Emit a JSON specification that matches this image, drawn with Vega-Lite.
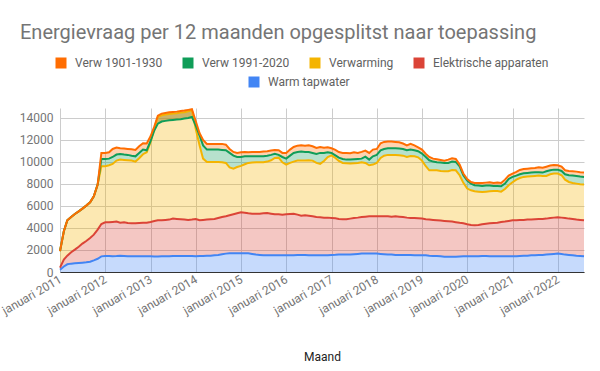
{
  "$schema": "https://vega.github.io/schema/vega-lite/v6.json",
  "autosize": {"type": "none"},
  "width": 524,
  "height": 164,
  "padding": {"left": 60, "top": 108, "right": 16, "bottom": 99},
  "background": "white",
  "title": {"text": "Energievraag per 12 maanden opgesplitst naar toepassing", "anchor": "start", "frame": "group", "dx": -40, "offset": 14, "font": "Roboto", "fontSize": 20, "fontWeight": "normal", "color": "#757575"},
  "config": {
    "view": {"stroke": null},
    "legend": {"labelFont": "Roboto", "labelFontSize": 12, "labelColor": "#616161", "symbolType": "square", "symbolSize": 121, "symbolStrokeWidth": 0, "symbolOpacity": 1, "labelOffset": 8, "columnPadding": 19, "padding": 0}
  },
  "data": {"values": [
{"d":"2011-01-01","tap":200,"elek":200,"verw":1500,"v1991":0,"v1901":0},
{"d":"2011-02-01","tap":500,"elek":620,"verw":2580,"v1991":0,"v1901":0},
{"d":"2011-03-01","tap":700,"elek":780,"verw":3220,"v1991":0,"v1901":0},
{"d":"2011-04-01","tap":760,"elek":1030,"verw":3210,"v1991":0,"v1901":0},
{"d":"2011-05-01","tap":790,"elek":1240,"verw":3240,"v1991":0,"v1901":0},
{"d":"2011-06-01","tap":820,"elek":1480,"verw":3210,"v1991":0,"v1901":0},
{"d":"2011-07-01","tap":850,"elek":1730,"verw":3180,"v1991":0,"v1901":0},
{"d":"2011-08-01","tap":880,"elek":1940,"verw":3210,"v1991":0,"v1901":0},
{"d":"2011-09-01","tap":940,"elek":2150,"verw":3240,"v1991":0,"v1901":0},
{"d":"2011-10-01","tap":1060,"elek":2330,"verw":3490,"v1991":0,"v1901":0},
{"d":"2011-11-01","tap":1200,"elek":2650,"verw":4090,"v1991":0,"v1901":0},
{"d":"2011-12-01","tap":1420,"elek":2940,"verw":5250,"v1991":660,"v1901":550},
{"d":"2012-01-01","tap":1450,"elek":3060,"verw":5100,"v1991":660,"v1901":550},
{"d":"2012-02-01","tap":1450,"elek":3060,"verw":5190,"v1991":600,"v1901":580},
{"d":"2012-03-01","tap":1430,"elek":3120,"verw":5270,"v1991":630,"v1901":730},
{"d":"2012-04-01","tap":1450,"elek":3130,"verw":5540,"v1991":550,"v1901":630},
{"d":"2012-05-01","tap":1480,"elek":3000,"verw":5730,"v1991":520,"v1901":510},
{"d":"2012-06-01","tap":1450,"elek":3060,"verw":5670,"v1991":490,"v1901":540},
{"d":"2012-07-01","tap":1420,"elek":3030,"verw":5700,"v1991":490,"v1901":540},
{"d":"2012-08-01","tap":1420,"elek":3000,"verw":5700,"v1991":450,"v1901":580},
{"d":"2012-09-01","tap":1420,"elek":3000,"verw":5610,"v1991":480,"v1901":580},
{"d":"2012-10-01","tap":1420,"elek":3030,"verw":5880,"v1991":490,"v1901":600},
{"d":"2012-11-01","tap":1420,"elek":3060,"verw":6220,"v1991":420,"v1901":580},
{"d":"2012-12-01","tap":1420,"elek":3060,"verw":6400,"v1991":180,"v1901":610},
{"d":"2013-01-01","tap":1420,"elek":3130,"verw":7240,"v1991":90,"v1901":450},
{"d":"2013-02-01","tap":1400,"elek":3240,"verw":8480,"v1991":-240,"v1901":360},
{"d":"2013-03-01","tap":1400,"elek":3300,"verw":9390,"v1991":-610,"v1901":730},
{"d":"2013-04-01","tap":1420,"elek":3280,"verw":9540,"v1991":-570,"v1901":720},
{"d":"2013-05-01","tap":1420,"elek":3310,"verw":9570,"v1991":-570,"v1901":720},
{"d":"2013-06-01","tap":1420,"elek":3340,"verw":9600,"v1991":-570,"v1901":720},
{"d":"2013-07-01","tap":1450,"elek":3400,"verw":9540,"v1991":-570,"v1901":720},
{"d":"2013-08-01","tap":1450,"elek":3370,"verw":9600,"v1991":-570,"v1901":720},
{"d":"2013-09-01","tap":1450,"elek":3340,"verw":9690,"v1991":-600,"v1901":750},
{"d":"2013-10-01","tap":1450,"elek":3310,"verw":9750,"v1991":-570,"v1901":730},
{"d":"2013-11-01","tap":1450,"elek":3280,"verw":9870,"v1991":-600,"v1901":730},
{"d":"2013-12-01","tap":1450,"elek":3310,"verw":9940,"v1991":-610,"v1901":700},
{"d":"2014-01-01","tap":1420,"elek":3400,"verw":8180,"v1991":300,"v1901":400},
{"d":"2014-02-01","tap":1450,"elek":3250,"verw":6800,"v1991":900,"v1901":200},
{"d":"2014-03-01","tap":1450,"elek":3280,"verw":5570,"v1991":1200,"v1901":500},
{"d":"2014-04-01","tap":1480,"elek":3280,"verw":5240,"v1991":1120,"v1901":520},
{"d":"2014-05-01","tap":1480,"elek":3310,"verw":5210,"v1991":1120,"v1901":520},
{"d":"2014-06-01","tap":1520,"elek":3300,"verw":5180,"v1991":1120,"v1901":520},
{"d":"2014-07-01","tap":1550,"elek":3360,"verw":5090,"v1991":1120,"v1901":520},
{"d":"2014-08-01","tap":1610,"elek":3390,"verw":4970,"v1991":1120,"v1901":550},
{"d":"2014-09-01","tap":1670,"elek":3390,"verw":4850,"v1991":1150,"v1901":510},
{"d":"2014-10-01","tap":1700,"elek":3450,"verw":4360,"v1991":1310,"v1901":360},
{"d":"2014-11-01","tap":1700,"elek":3540,"verw":4150,"v1991":1180,"v1901":340},
{"d":"2014-12-01","tap":1700,"elek":3630,"verw":4210,"v1991":910,"v1901":370},
{"d":"2015-01-01","tap":1700,"elek":3720,"verw":4220,"v1991":810,"v1901":430},
{"d":"2015-02-01","tap":1700,"elek":3690,"verw":4400,"v1991":720,"v1901":400},
{"d":"2015-03-01","tap":1700,"elek":3630,"verw":4580,"v1991":600,"v1901":370},
{"d":"2015-04-01","tap":1640,"elek":3660,"verw":4640,"v1991":570,"v1901":400},
{"d":"2015-05-01","tap":1580,"elek":3720,"verw":4670,"v1991":540,"v1901":400},
{"d":"2015-06-01","tap":1550,"elek":3750,"verw":4670,"v1991":540,"v1901":400},
{"d":"2015-07-01","tap":1520,"elek":3810,"verw":4640,"v1991":540,"v1901":430},
{"d":"2015-08-01","tap":1520,"elek":3840,"verw":4670,"v1991":540,"v1901":400},
{"d":"2015-09-01","tap":1520,"elek":3780,"verw":4850,"v1991":490,"v1901":390},
{"d":"2015-10-01","tap":1520,"elek":3720,"verw":5120,"v1991":370,"v1901":360},
{"d":"2015-11-01","tap":1520,"elek":3720,"verw":5150,"v1991":250,"v1901":420},
{"d":"2015-12-01","tap":1520,"elek":3690,"verw":4760,"v1991":480,"v1901":370},
{"d":"2016-01-01","tap":1520,"elek":3720,"verw":4520,"v1991":540,"v1901":520},
{"d":"2016-02-01","tap":1520,"elek":3750,"verw":4640,"v1991":660,"v1901":550},
{"d":"2016-03-01","tap":1520,"elek":3780,"verw":4730,"v1991":790,"v1901":540},
{"d":"2016-04-01","tap":1550,"elek":3660,"verw":4910,"v1991":790,"v1901":570},
{"d":"2016-05-01","tap":1550,"elek":3570,"verw":5000,"v1991":820,"v1901":570},
{"d":"2016-06-01","tap":1550,"elek":3600,"verw":4970,"v1991":790,"v1901":570},
{"d":"2016-07-01","tap":1520,"elek":3600,"verw":5030,"v1991":760,"v1901":600},
{"d":"2016-08-01","tap":1520,"elek":3540,"verw":5060,"v1991":700,"v1901":600},
{"d":"2016-09-01","tap":1520,"elek":3480,"verw":4910,"v1991":820,"v1901":540},
{"d":"2016-10-01","tap":1520,"elek":3450,"verw":4850,"v1991":1000,"v1901":540},
{"d":"2016-11-01","tap":1520,"elek":3420,"verw":5150,"v1991":730,"v1901":480},
{"d":"2016-12-01","tap":1520,"elek":3420,"verw":5510,"v1991":430,"v1901":450},
{"d":"2017-01-01","tap":1550,"elek":3360,"verw":5690,"v1991":220,"v1901":420},
{"d":"2017-02-01","tap":1560,"elek":3320,"verw":5480,"v1991":240,"v1901":500},
{"d":"2017-03-01","tap":1580,"elek":3240,"verw":5270,"v1991":300,"v1901":510},
{"d":"2017-04-01","tap":1590,"elek":3200,"verw":5120,"v1991":360,"v1901":550},
{"d":"2017-05-01","tap":1580,"elek":3210,"verw":5090,"v1991":330,"v1901":610},
{"d":"2017-06-01","tap":1580,"elek":3270,"verw":5000,"v1991":360,"v1901":580},
{"d":"2017-07-01","tap":1610,"elek":3300,"verw":4970,"v1991":360,"v1901":640},
{"d":"2017-08-01","tap":1640,"elek":3300,"verw":4970,"v1991":360,"v1901":550},
{"d":"2017-09-01","tap":1670,"elek":3330,"verw":4970,"v1991":330,"v1901":610},
{"d":"2017-10-01","tap":1670,"elek":3360,"verw":4880,"v1991":570,"v1901":550},
{"d":"2017-11-01","tap":1670,"elek":3390,"verw":4640,"v1991":510,"v1901":610},
{"d":"2017-12-01","tap":1670,"elek":3390,"verw":4700,"v1991":750,"v1901":610},
{"d":"2018-01-01","tap":1670,"elek":3390,"verw":4850,"v1991":730,"v1901":540},
{"d":"2018-02-01","tap":1640,"elek":3420,"verw":5300,"v1991":700,"v1901":640},
{"d":"2018-03-01","tap":1610,"elek":3450,"verw":5510,"v1991":610,"v1901":640},
{"d":"2018-04-01","tap":1580,"elek":3480,"verw":5580,"v1991":600,"v1901":610},
{"d":"2018-05-01","tap":1580,"elek":3450,"verw":5610,"v1991":600,"v1901":610},
{"d":"2018-06-01","tap":1550,"elek":3510,"verw":5580,"v1991":600,"v1901":580},
{"d":"2018-07-01","tap":1550,"elek":3480,"verw":5580,"v1991":600,"v1901":580},
{"d":"2018-08-01","tap":1550,"elek":3450,"verw":5570,"v1991":610,"v1901":490},
{"d":"2018-09-01","tap":1550,"elek":3390,"verw":5510,"v1991":610,"v1901":450},
{"d":"2018-10-01","tap":1550,"elek":3360,"verw":5630,"v1991":580,"v1901":520},
{"d":"2018-11-01","tap":1520,"elek":3390,"verw":5600,"v1991":550,"v1901":450},
{"d":"2018-12-01","tap":1520,"elek":3360,"verw":5540,"v1991":550,"v1901":360},
{"d":"2019-01-01","tap":1520,"elek":3330,"verw":5270,"v1991":640,"v1901":360},
{"d":"2019-02-01","tap":1520,"elek":3270,"verw":4820,"v1991":840,"v1901":280},
{"d":"2019-03-01","tap":1480,"elek":3280,"verw":4480,"v1991":910,"v1901":300},
{"d":"2019-04-01","tap":1450,"elek":3280,"verw":4510,"v1991":790,"v1901":270},
{"d":"2019-05-01","tap":1450,"elek":3250,"verw":4540,"v1991":730,"v1901":270},
{"d":"2019-06-01","tap":1420,"elek":3250,"verw":4510,"v1991":760,"v1901":240},
{"d":"2019-07-01","tap":1390,"elek":3250,"verw":4510,"v1991":760,"v1901":210},
{"d":"2019-08-01","tap":1390,"elek":3220,"verw":4540,"v1991":760,"v1901":300},
{"d":"2019-09-01","tap":1390,"elek":3190,"verw":4690,"v1991":760,"v1901":300},
{"d":"2019-10-01","tap":1380,"elek":3150,"verw":4710,"v1991":760,"v1901":270},
{"d":"2019-11-01","tap":1400,"elek":3070,"verw":4320,"v1991":800,"v1901":170},
{"d":"2019-12-01","tap":1420,"elek":3000,"verw":3680,"v1991":700,"v1901":150},
{"d":"2020-01-01","tap":1420,"elek":2910,"verw":3250,"v1991":720,"v1901":150},
{"d":"2020-02-01","tap":1420,"elek":2850,"verw":3150,"v1991":610,"v1901":150},
{"d":"2020-03-01","tap":1420,"elek":2820,"verw":3090,"v1991":550,"v1901":210},
{"d":"2020-04-01","tap":1420,"elek":2850,"verw":3030,"v1991":550,"v1901":240},
{"d":"2020-05-01","tap":1450,"elek":2880,"verw":2940,"v1991":550,"v1901":270},
{"d":"2020-06-01","tap":1450,"elek":2940,"verw":2910,"v1991":550,"v1901":270},
{"d":"2020-07-01","tap":1420,"elek":3000,"verw":2910,"v1991":520,"v1901":300},
{"d":"2020-08-01","tap":1420,"elek":3030,"verw":2910,"v1991":460,"v1901":270},
{"d":"2020-09-01","tap":1420,"elek":3060,"verw":2880,"v1991":460,"v1901":300},
{"d":"2020-10-01","tap":1420,"elek":3130,"verw":2750,"v1991":490,"v1901":300},
{"d":"2020-11-01","tap":1420,"elek":3160,"verw":2960,"v1991":490,"v1901":360},
{"d":"2020-12-01","tap":1420,"elek":3220,"verw":3240,"v1991":570,"v1901":310},
{"d":"2021-01-01","tap":1420,"elek":3280,"verw":3450,"v1991":490,"v1901":300},
{"d":"2021-02-01","tap":1420,"elek":3280,"verw":3690,"v1991":370,"v1901":330},
{"d":"2021-03-01","tap":1450,"elek":3280,"verw":3810,"v1991":340,"v1901":390},
{"d":"2021-04-01","tap":1480,"elek":3250,"verw":3910,"v1991":330,"v1901":390},
{"d":"2021-05-01","tap":1480,"elek":3280,"verw":3910,"v1991":330,"v1901":390},
{"d":"2021-06-01","tap":1520,"elek":3240,"verw":3940,"v1991":330,"v1901":390},
{"d":"2021-07-01","tap":1520,"elek":3270,"verw":3940,"v1991":330,"v1901":390},
{"d":"2021-08-01","tap":1550,"elek":3270,"verw":3940,"v1991":300,"v1901":450},
{"d":"2021-09-01","tap":1550,"elek":3270,"verw":3910,"v1991":300,"v1901":450},
{"d":"2021-10-01","tap":1580,"elek":3270,"verw":3880,"v1991":420,"v1901":420},
{"d":"2021-11-01","tap":1610,"elek":3300,"verw":3970,"v1991":360,"v1901":430},
{"d":"2021-12-01","tap":1640,"elek":3300,"verw":4000,"v1991":360,"v1901":430},
{"d":"2022-01-01","tap":1670,"elek":3300,"verw":3970,"v1991":360,"v1901":400},
{"d":"2022-02-01","tap":1640,"elek":3300,"verw":3850,"v1991":390,"v1901":390},
{"d":"2022-03-01","tap":1580,"elek":3330,"verw":3480,"v1991":490,"v1901":360},
{"d":"2022-04-01","tap":1550,"elek":3300,"verw":3330,"v1991":610,"v1901":390},
{"d":"2022-05-01","tap":1520,"elek":3300,"verw":3270,"v1991":670,"v1901":390},
{"d":"2022-06-01","tap":1480,"elek":3280,"verw":3270,"v1991":700,"v1901":390},
{"d":"2022-07-01","tap":1450,"elek":3280,"verw":3240,"v1991":700,"v1901":390},
{"d":"2022-08-01","tap":1420,"elek":3280,"verw":3240,"v1991":700,"v1901":390}
  ]},
  "transform": [
    {"fold": ["tap", "elek", "verw", "v1991", "v1901"], "as": ["k", "v"]},
    {"lookup": "k", "from": {"data": {"values": [
      {"k": "tap", "s": "Warm tapwater", "o": 1},
      {"k": "elek", "s": "Elektrische apparaten", "o": 2},
      {"k": "verw", "s": "Verwarming", "o": 3},
      {"k": "v1991", "s": "Verw 1991-2020", "o": 4},
      {"k": "v1901", "s": "Verw 1901-1930", "o": 5}
    ]}, "key": "k", "fields": ["s", "o"]}},
    {"window": [{"op": "sum", "field": "v", "as": "top"}], "groupby": ["d"], "sort": [{"field": "o", "order": "ascending"}], "frame": [null, 0]},
    {"window": [{"op": "lag", "field": "top", "as": "base"}], "groupby": ["d"], "sort": [{"field": "o", "order": "ascending"}]}
  ],
  "encoding": {
    "x": {"field": "d", "type": "temporal",
      "scale": {"type": "utc", "domain": [{"year": 2011, "month": 1, "date": 1, "utc": true}, {"year": 2022, "month": 8, "date": 1, "utc": true}]},
      "axis": {"tickCount": {"interval": "year", "step": 1}, "labelExpr": "'januari ' + utcFormat(datum.value, '%Y')", "grid": true, "gridColor": "#cccccc", "domainColor": "#333333", "ticks": false, "labelFont": "Roboto", "labelFontSize": 12, "labelColor": "#757575", "labelAngle": -30, "labelAlign": "right", "labelBaseline": "middle", "labelPadding": 6, "labelDx": 10, "labelDy": 1, "labelOverlap": false, "title": "Maand", "titleFont": "Roboto", "titleFontSize": 12, "titleColor": "#222222", "titleFontWeight": "normal", "titleY": 84, "titleBaseline": "middle"}
    },
    "y": {"field": "top", "type": "quantitative", "stack": null, "scale": {"domain": [0, 14900], "nice": false},
      "axis": {"values": [0, 2000, 4000, 6000, 8000, 10000, 12000, 14000], "format": "d", "labelOverlap": false, "grid": true, "gridColor": "#cccccc", "domain": false, "ticks": false, "labelPadding": 7, "labelFont": "Roboto", "labelFontSize": 12, "labelColor": "#757575", "title": null}}
  },
  "layer": [
    {
      "transform": [{"filter": "datum.o > 1"}],
      "mark": {"type": "area", "fillOpacity": 0.3},
      "encoding": {
        "y2": {"field": "base"},
        "color": {"field": "s", "type": "nominal",
          "scale": {"domain": ["Verw 1901-1930", "Verw 1991-2020", "Verwarming", "Elektrische apparaten", "Warm tapwater"], "range": ["#ff6d01", "#0f9d58", "#f4b400", "#db4437", "#4285f4"]},
          "legend": {"values": ["Verw 1901-1930", "Verw 1991-2020", "Verwarming", "Elektrische apparaten"], "title": null, "orient": "none", "direction": "horizontal", "legendX": -5, "legendY": -51}}
      }
    },
    {
      "transform": [{"filter": "datum.o === 1"}],
      "mark": {"type": "area", "fillOpacity": 0.3},
      "encoding": {
        "y2": {"datum": 0},
        "color": {"field": "s", "type": "nominal",
          "legend": {"values": ["Warm tapwater"], "title": null, "orient": "none", "direction": "horizontal", "legendX": 188, "legendY": -32}}
      }
    },
    {
      "mark": {"type": "line", "strokeWidth": 2},
      "encoding": {
        "color": {"field": "s", "type": "nominal", "legend": null}
      }
    }
  ],
  "resolve": {"legend": {"color": "independent"}}
}
